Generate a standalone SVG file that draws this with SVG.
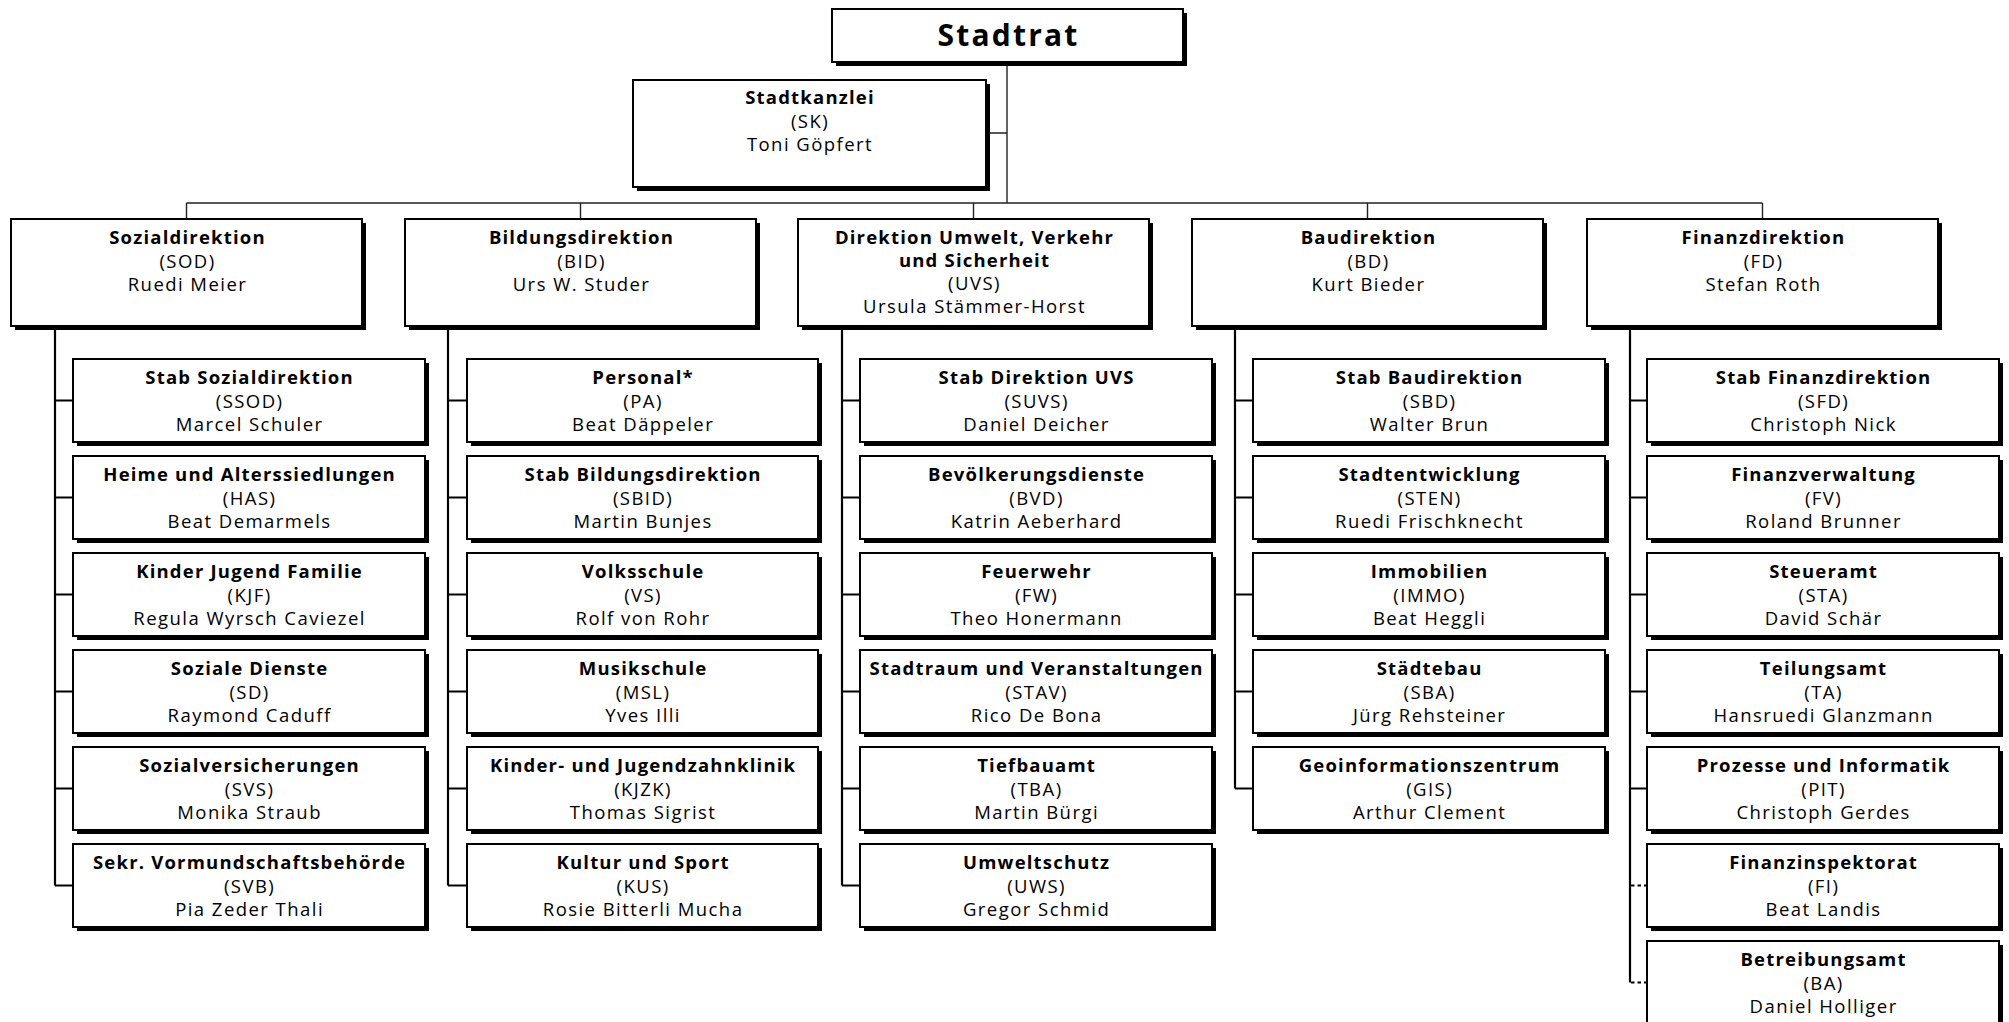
<svg xmlns="http://www.w3.org/2000/svg" width="2009" height="1022" viewBox="0 0 2009 1022">
<style>
.sh{fill:#000}
.box{fill:#fff;stroke:#000;stroke-width:2}
.t{font-family:"Open Sans","Noto Sans",sans-serif;font-size:18.5px;text-anchor:middle;letter-spacing:1.45px;fill:#000}
.b{font-weight:bold;letter-spacing:1.2px}
.big{font-family:"Open Sans","Noto Sans",sans-serif;font-size:30px;font-weight:bold;text-anchor:middle;letter-spacing:2.2px}
.thin{stroke:#222;stroke-width:1.4;fill:none}
.stem{stroke:#000;stroke-width:2.2;fill:none}
.dash{stroke-dasharray:3.5 3}
</style>
<rect width="2009" height="1022" fill="#fff"/>
<g id="connectors">
<path class="thin" d="M1007 62V203M986 133H1007M186.5 203H1762.5M186.5 203V219M580.5 203V219M973.5 203V219M1367.5 203V219M1762.5 203V219"/>
<path class="stem" d="M55 326V885.5M55 400.5H73M55 497.5H73M55 594.5H73M55 691.5H73M55 788.5H73M55 885.5H73"/>
<path class="stem" d="M448 326V885.5M448 400.5H467M448 497.5H467M448 594.5H467M448 691.5H467M448 788.5H467M448 885.5H467"/>
<path class="stem" d="M842 326V885.5M842 400.5H860M842 497.5H860M842 594.5H860M842 691.5H860M842 788.5H860M842 885.5H860"/>
<path class="stem" d="M1235 326V788.5M1235 400.5H1253M1235 497.5H1253M1235 594.5H1253M1235 691.5H1253M1235 788.5H1253"/>
<path class="stem" d="M1630 326V982.5M1630 400.5H1647M1630 497.5H1647M1630 594.5H1647M1630 691.5H1647M1630 788.5H1647"/>
<path class="stem dash" d="M1631 885.5H1647M1631 982.5H1647"/>
</g>

<g id="stadtrat"><rect class="sh" x="836" y="13" width="351" height="53"/><rect class="box" x="832" y="9" width="351" height="53"/><text class="big" x="1008.5" y="46">Stadtrat</text></g>
<g id="stadtkanzlei"><rect class="sh" x="637" y="84" width="353" height="107"/><rect class="box" x="633" y="80" width="353" height="107"/><text class="t" x="810" y="104"><tspan class="b">Stadtkanzlei</tspan><tspan x="810" y="127.5">(SK)</tspan><tspan x="810" y="151">Toni Göpfert</tspan></text></g>

<g id="sod"><rect class="sh" x="15" y="223" width="351" height="107"/><rect class="box" x="11" y="219" width="351" height="107"/><text class="t" x="187.5" y="244"><tspan class="b">Sozialdirektion</tspan><tspan x="187.5" y="267.5">(SOD)</tspan><tspan x="187.5" y="290.5">Ruedi Meier</tspan></text></g>
<g id="bid"><rect class="sh" x="409" y="223" width="351" height="107"/><rect class="box" x="405" y="219" width="351" height="107"/><text class="t" x="581.5" y="244"><tspan class="b">Bildungsdirektion</tspan><tspan x="581.5" y="267.5">(BID)</tspan><tspan x="581.5" y="290.5">Urs W. Studer</tspan></text></g>
<g id="uvs"><rect class="sh" x="802" y="223" width="351" height="107"/><rect class="box" x="798" y="219" width="351" height="107"/><text class="t" x="974.5" y="244"><tspan class="b">Direktion Umwelt, Verkehr</tspan><tspan class="b" x="974.5" y="267">und Sicherheit</tspan><tspan x="974.5" y="290">(UVS)</tspan><tspan x="974.5" y="313">Ursula Stämmer-Horst</tspan></text></g>
<g id="bd"><rect class="sh" x="1196" y="223" width="351" height="107"/><rect class="box" x="1192" y="219" width="351" height="107"/><text class="t" x="1368.5" y="244"><tspan class="b">Baudirektion</tspan><tspan x="1368.5" y="267.5">(BD)</tspan><tspan x="1368.5" y="290.5">Kurt Bieder</tspan></text></g>
<g id="fd"><rect class="sh" x="1591" y="223" width="351" height="107"/><rect class="box" x="1587" y="219" width="351" height="107"/><text class="t" x="1763.5" y="244"><tspan class="b">Finanzdirektion</tspan><tspan x="1763.5" y="267.5">(FD)</tspan><tspan x="1763.5" y="290.5">Stefan Roth</tspan></text></g>

<!-- Sozialdirektion children -->
<g id="ssod"><rect class="sh" x="77" y="363" width="352" height="83"/><rect class="box" x="73" y="359" width="352" height="83"/><text class="t" x="249.6" y="384"><tspan class="b">Stab Sozialdirektion</tspan><tspan x="249.6" y="407.5">(SSOD)</tspan><tspan x="249.6" y="430.5">Marcel Schuler</tspan></text></g>
<g id="has"><rect class="sh" x="77" y="460" width="352" height="83"/><rect class="box" x="73" y="456" width="352" height="83"/><text class="t" x="249.6" y="481"><tspan class="b">Heime und Alterssiedlungen</tspan><tspan x="249.6" y="504.5">(HAS)</tspan><tspan x="249.6" y="527.5">Beat Demarmels</tspan></text></g>
<g id="kjf"><rect class="sh" x="77" y="557" width="352" height="83"/><rect class="box" x="73" y="553" width="352" height="83"/><text class="t" x="249.6" y="578"><tspan class="b">Kinder Jugend Familie</tspan><tspan x="249.6" y="601.5">(KJF)</tspan><tspan x="249.6" y="624.5">Regula Wyrsch Caviezel</tspan></text></g>
<g id="sd"><rect class="sh" x="77" y="654" width="352" height="83"/><rect class="box" x="73" y="650" width="352" height="83"/><text class="t" x="249.6" y="675"><tspan class="b">Soziale Dienste</tspan><tspan x="249.6" y="698.5">(SD)</tspan><tspan x="249.6" y="721.5">Raymond Caduff</tspan></text></g>
<g id="svs"><rect class="sh" x="77" y="751" width="352" height="83"/><rect class="box" x="73" y="747" width="352" height="83"/><text class="t" x="249.6" y="772"><tspan class="b">Sozialversicherungen</tspan><tspan x="249.6" y="795.5">(SVS)</tspan><tspan x="249.6" y="818.5">Monika Straub</tspan></text></g>
<g id="svb"><rect class="sh" x="77" y="848" width="352" height="83"/><rect class="box" x="73" y="844" width="352" height="83"/><text class="t" x="249.6" y="869"><tspan class="b">Sekr. Vormundschaftsbehörde</tspan><tspan x="249.6" y="892.5">(SVB)</tspan><tspan x="249.6" y="915.5">Pia Zeder Thali</tspan></text></g>

<!-- Bildungsdirektion children -->
<g id="pa"><rect class="sh" x="471" y="363" width="351" height="83"/><rect class="box" x="467" y="359" width="351" height="83"/><text class="t" x="643.1" y="384"><tspan class="b">Personal*</tspan><tspan x="643.1" y="407.5">(PA)</tspan><tspan x="643.1" y="430.5">Beat Däppeler</tspan></text></g>
<g id="sbid"><rect class="sh" x="471" y="460" width="351" height="83"/><rect class="box" x="467" y="456" width="351" height="83"/><text class="t" x="643.1" y="481"><tspan class="b">Stab Bildungsdirektion</tspan><tspan x="643.1" y="504.5">(SBID)</tspan><tspan x="643.1" y="527.5">Martin Bunjes</tspan></text></g>
<g id="vs"><rect class="sh" x="471" y="557" width="351" height="83"/><rect class="box" x="467" y="553" width="351" height="83"/><text class="t" x="643.1" y="578"><tspan class="b">Volksschule</tspan><tspan x="643.1" y="601.5">(VS)</tspan><tspan x="643.1" y="624.5">Rolf von Rohr</tspan></text></g>
<g id="msl"><rect class="sh" x="471" y="654" width="351" height="83"/><rect class="box" x="467" y="650" width="351" height="83"/><text class="t" x="643.1" y="675"><tspan class="b">Musikschule</tspan><tspan x="643.1" y="698.5">(MSL)</tspan><tspan x="643.1" y="721.5">Yves Illi</tspan></text></g>
<g id="kjzk"><rect class="sh" x="471" y="751" width="351" height="83"/><rect class="box" x="467" y="747" width="351" height="83"/><text class="t" x="643.1" y="772"><tspan class="b">Kinder- und Jugendzahnklinik</tspan><tspan x="643.1" y="795.5">(KJZK)</tspan><tspan x="643.1" y="818.5">Thomas Sigrist</tspan></text></g>
<g id="kus"><rect class="sh" x="471" y="848" width="351" height="83"/><rect class="box" x="467" y="844" width="351" height="83"/><text class="t" x="643.1" y="869"><tspan class="b">Kultur und Sport</tspan><tspan x="643.1" y="892.5">(KUS)</tspan><tspan x="643.1" y="915.5">Rosie Bitterli Mucha</tspan></text></g>

<!-- UVS children -->
<g id="suvs"><rect class="sh" x="864" y="363" width="352" height="83"/><rect class="box" x="860" y="359" width="352" height="83"/><text class="t" x="1036.6" y="384"><tspan class="b">Stab Direktion UVS</tspan><tspan x="1036.6" y="407.5">(SUVS)</tspan><tspan x="1036.6" y="430.5">Daniel Deicher</tspan></text></g>
<g id="bvd"><rect class="sh" x="864" y="460" width="352" height="83"/><rect class="box" x="860" y="456" width="352" height="83"/><text class="t" x="1036.6" y="481"><tspan class="b">Bevölkerungsdienste</tspan><tspan x="1036.6" y="504.5">(BVD)</tspan><tspan x="1036.6" y="527.5">Katrin Aeberhard</tspan></text></g>
<g id="fw"><rect class="sh" x="864" y="557" width="352" height="83"/><rect class="box" x="860" y="553" width="352" height="83"/><text class="t" x="1036.6" y="578"><tspan class="b">Feuerwehr</tspan><tspan x="1036.6" y="601.5">(FW)</tspan><tspan x="1036.6" y="624.5">Theo Honermann</tspan></text></g>
<g id="stav"><rect class="sh" x="864" y="654" width="352" height="83"/><rect class="box" x="860" y="650" width="352" height="83"/><text class="t" x="1036.6" y="675"><tspan class="b">Stadtraum und Veranstaltungen</tspan><tspan x="1036.6" y="698.5">(STAV)</tspan><tspan x="1036.6" y="721.5">Rico De Bona</tspan></text></g>
<g id="tba"><rect class="sh" x="864" y="751" width="352" height="83"/><rect class="box" x="860" y="747" width="352" height="83"/><text class="t" x="1036.6" y="772"><tspan class="b">Tiefbauamt</tspan><tspan x="1036.6" y="795.5">(TBA)</tspan><tspan x="1036.6" y="818.5">Martin Bürgi</tspan></text></g>
<g id="uws"><rect class="sh" x="864" y="848" width="352" height="83"/><rect class="box" x="860" y="844" width="352" height="83"/><text class="t" x="1036.6" y="869"><tspan class="b">Umweltschutz</tspan><tspan x="1036.6" y="892.5">(UWS)</tspan><tspan x="1036.6" y="915.5">Gregor Schmid</tspan></text></g>

<!-- Baudirektion children -->
<g id="sbd"><rect class="sh" x="1257" y="363" width="352" height="83"/><rect class="box" x="1253" y="359" width="352" height="83"/><text class="t" x="1429.6" y="384"><tspan class="b">Stab Baudirektion</tspan><tspan x="1429.6" y="407.5">(SBD)</tspan><tspan x="1429.6" y="430.5">Walter Brun</tspan></text></g>
<g id="sten"><rect class="sh" x="1257" y="460" width="352" height="83"/><rect class="box" x="1253" y="456" width="352" height="83"/><text class="t" x="1429.6" y="481"><tspan class="b">Stadtentwicklung</tspan><tspan x="1429.6" y="504.5">(STEN)</tspan><tspan x="1429.6" y="527.5">Ruedi Frischknecht</tspan></text></g>
<g id="immo"><rect class="sh" x="1257" y="557" width="352" height="83"/><rect class="box" x="1253" y="553" width="352" height="83"/><text class="t" x="1429.6" y="578"><tspan class="b">Immobilien</tspan><tspan x="1429.6" y="601.5">(IMMO)</tspan><tspan x="1429.6" y="624.5">Beat Heggli</tspan></text></g>
<g id="sba"><rect class="sh" x="1257" y="654" width="352" height="83"/><rect class="box" x="1253" y="650" width="352" height="83"/><text class="t" x="1429.6" y="675"><tspan class="b">Städtebau</tspan><tspan x="1429.6" y="698.5">(SBA)</tspan><tspan x="1429.6" y="721.5">Jürg Rehsteiner</tspan></text></g>
<g id="gis"><rect class="sh" x="1257" y="751" width="352" height="83"/><rect class="box" x="1253" y="747" width="352" height="83"/><text class="t" x="1429.6" y="772"><tspan class="b">Geoinformationszentrum</tspan><tspan x="1429.6" y="795.5">(GIS)</tspan><tspan x="1429.6" y="818.5">Arthur Clement</tspan></text></g>

<!-- Finanzdirektion children -->
<g id="sfd"><rect class="sh" x="1651" y="363" width="352" height="83"/><rect class="box" x="1647" y="359" width="352" height="83"/><text class="t" x="1823.6" y="384"><tspan class="b">Stab Finanzdirektion</tspan><tspan x="1823.6" y="407.5">(SFD)</tspan><tspan x="1823.6" y="430.5">Christoph Nick</tspan></text></g>
<g id="fv"><rect class="sh" x="1651" y="460" width="352" height="83"/><rect class="box" x="1647" y="456" width="352" height="83"/><text class="t" x="1823.6" y="481"><tspan class="b">Finanzverwaltung</tspan><tspan x="1823.6" y="504.5">(FV)</tspan><tspan x="1823.6" y="527.5">Roland Brunner</tspan></text></g>
<g id="sta"><rect class="sh" x="1651" y="557" width="352" height="83"/><rect class="box" x="1647" y="553" width="352" height="83"/><text class="t" x="1823.6" y="578"><tspan class="b">Steueramt</tspan><tspan x="1823.6" y="601.5">(STA)</tspan><tspan x="1823.6" y="624.5">David Schär</tspan></text></g>
<g id="ta"><rect class="sh" x="1651" y="654" width="352" height="83"/><rect class="box" x="1647" y="650" width="352" height="83"/><text class="t" x="1823.6" y="675"><tspan class="b">Teilungsamt</tspan><tspan x="1823.6" y="698.5">(TA)</tspan><tspan x="1823.6" y="721.5">Hansruedi Glanzmann</tspan></text></g>
<g id="pit"><rect class="sh" x="1651" y="751" width="352" height="83"/><rect class="box" x="1647" y="747" width="352" height="83"/><text class="t" x="1823.6" y="772"><tspan class="b">Prozesse und Informatik</tspan><tspan x="1823.6" y="795.5">(PIT)</tspan><tspan x="1823.6" y="818.5">Christoph Gerdes</tspan></text></g>
<g id="fi"><rect class="sh" x="1651" y="848" width="352" height="83"/><rect class="box" x="1647" y="844" width="352" height="83"/><text class="t" x="1823.6" y="869"><tspan class="b">Finanzinspektorat</tspan><tspan x="1823.6" y="892.5">(FI)</tspan><tspan x="1823.6" y="915.5">Beat Landis</tspan></text></g>
<g id="ba"><rect class="sh" x="1651" y="945" width="352" height="83"/><rect class="box" x="1647" y="941" width="352" height="83"/><text class="t" x="1823.6" y="966"><tspan class="b">Betreibungsamt</tspan><tspan x="1823.6" y="989.5">(BA)</tspan><tspan x="1823.6" y="1012.5">Daniel Holliger</tspan></text></g>
</svg>
